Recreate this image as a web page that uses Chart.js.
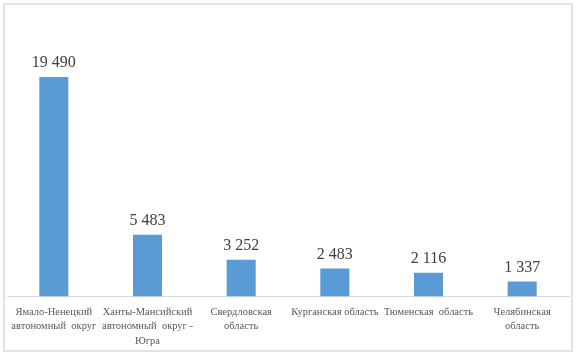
<!DOCTYPE html>
<html>
<head>
<meta charset="utf-8">
<script src="https://cdn.jsdelivr.net/npm/chart.js@4"></script>
<style>
  body { margin: 0; background: #fff; }
  #wrap { position: relative; width: 579px; height: 359px; }
  #frame {
    position: absolute; left: 3px; top: 3px; width: 566px; height: 345px;
    border: 2px solid #e3e3e3; pointer-events: none;
  }
</style>
</head>
<body>
<div id="wrap">
  <canvas id="myChart" width="579" height="359"></canvas>
  <div id="frame"></div>
</div>
<script>
// regions of the Ural federal district
var regions = [
    ["Ямало-Ненецкий", "автономный  округ"],
    ["Ханты-Мансийский", "автономный  округ -", "Югра"],
    ["Свердловская", "область"],
    "Курганская область",
    "Тюменская  область",
    ["Челябинская", "область"]
];
var values = [19490, 5483, 3252, 2483, 2116, 1337];
var valueLabels = ["19 490", "5 483", "3 252", "2 483", "2 116", "1 337"];

// draw the numbers above bars
var barLabels = {
    id: "barLabels",
    afterDatasetsDraw: function(chart) {
        var ctx = chart.ctx;
        var meta = chart.getDatasetMeta(0);
        ctx.save();
        ctx.font = "16px 'Liberation Serif'";
        ctx.fillStyle = "#404040";
        ctx.textAlign = "center";
        ctx.textBaseline = "bottom";
        meta.data.forEach(function(bar, i) {
            ctx.fillText(valueLabels[i], bar.x, bar.y - 6);
        });
        ctx.restore();
    }
};

var ctx = document.getElementById("myChart");
var myChart = new Chart(ctx, {
    type: "bar",
    data: {
        labels: regions,
        datasets: [{
            data: values,
            backgroundColor: "#5b9bd5",
            barPercentage: 0.31,
            categoryPercentage: 1
        }]
    },
    options: {
        responsive: false,
        animation: false,
        layout: { padding: { left: 7, right: 10, top: 15, bottom: 2 } },
        plugins: {
            legend: { display: false },
            tooltip: { enabled: false }
        },
        scales: {
            x: {
                grid: { display: false, drawTicks: false },
                border: { display: true, color: "#d9d9d9", width: 1 },
                ticks: {
                    autoSkip: false,
                    maxRotation: 0,
                    minRotation: 0,
                    padding: 9,
                    color: "#595959",
                    font: { family: "'Liberation Serif'", size: 10.5, lineHeight: 1.35 }
                }
            },
            y: {
                display: false,
                min: 0,
                max: 25000
            }
        }
    },
    plugins: [barLabels]
});
</script>
</body>
</html>
